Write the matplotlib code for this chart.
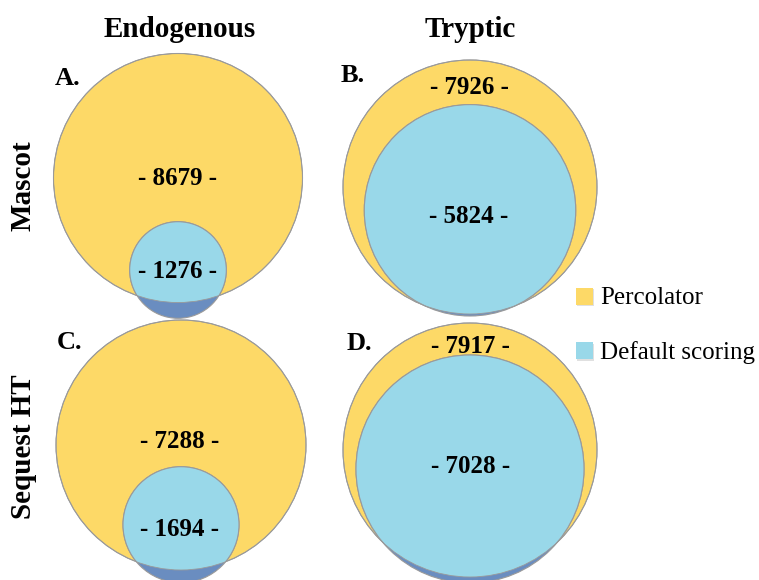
import numpy as np
import matplotlib
matplotlib.use("Agg")
import matplotlib.pyplot as plt
from matplotlib.patches import Circle, Rectangle

# ---- data ----
panel_letters = ["A.", "B.", "C.", "D."]
percolator_counts = [8679, 7926, 7288, 7917]
default_counts = [1276, 5824, 1694, 7028]
column_titles = ["Endogenous", "Tryptic"]
row_titles = ["Mascot", "Sequest HT"]
legend_labels = ["Percolator", "Default scoring"]

# ---- layout (pixel coords, y downward) ----
big_centers = [(178, 178), (470, 187), (181, 445), (470, 450)]
big_radius = [124.5, 127, 125, 127]
small_radius = [48.3, 105.7, 58, 114]
small_center_y = [270, 210.3, 524.7, 469]
perc_label_y = [185, 94, 448.3, 353.3]
def_label_y = [278.3, 222.7, 536, 473.3]
label_x = [177, 469, 179.5, 470.7]
letter_pos = [(55, 85), (341, 81.7), (56.7, 349.3), (346.7, 350)]
col_title_pos = [(180, 37), (470, 37)]
row_title_pos = [(31, 186), (31, 446.7)]

YELLOW = "#FDD967"
LBLUE = "#99D8E9"
DBLUE = "#6A8DC0"
EDGE = "#9A9A9A"
FONT = "Liberation Serif"

fig = plt.figure(figsize=(7.59, 5.80), dpi=100)
ax = fig.add_axes([0, 0, 1, 1])
ax.set_xlim(0, 759)
ax.set_ylim(580, 0)
ax.axis("off")

for i in range(4):
    cx, cy = big_centers[i]
    R = big_radius[i]
    r = small_radius[i]
    big = Circle((cx, cy), R, facecolor=YELLOW, edgecolor=EDGE, lw=0.8, zorder=1)
    ax.add_patch(big)
    dark = Circle((cx, small_center_y[i]), r, facecolor=DBLUE, edgecolor=EDGE, lw=0.8, zorder=2)
    ax.add_patch(dark)
    light = Circle((cx, small_center_y[i]), r, facecolor=LBLUE, edgecolor=EDGE, lw=0.8, zorder=3)
    ax.add_patch(light)
    clip = Circle((cx, cy), R, transform=ax.transData)
    light.set_clip_path(clip)
    ax.add_patch(Circle((cx, cy), R, facecolor="none", edgecolor=EDGE, lw=0.6, zorder=4))

    ax.text(label_x[i], perc_label_y[i], f"- {percolator_counts[i]} -", ha="center", va="baseline",
            fontsize=18, fontweight="bold", family=FONT, zorder=5)
    ax.text(label_x[i], def_label_y[i], f"- {default_counts[i]} -", ha="center", va="baseline",
            fontsize=18, fontweight="bold", family=FONT, zorder=5)
    lx, ly = letter_pos[i]
    ax.text(lx, ly, panel_letters[i], ha="left", va="baseline", fontsize=19,
            fontweight="bold", family=FONT, zorder=5)

for (x, y), t in zip(col_title_pos, column_titles):
    ax.text(x, y, t, ha="center", va="baseline", fontsize=21, fontweight="bold", family=FONT)
for (x, y), t in zip(row_title_pos, row_titles):
    ax.text(x, y, t, ha="center", va="baseline", rotation=90, rotation_mode="anchor",
            fontsize=21, fontweight="bold", family=FONT)

# legend
leg_y = [296, 350.5]
leg_colors = [YELLOW, LBLUE]
for y, c, lab in zip(leg_y, leg_colors, legend_labels):
    ax.add_patch(Rectangle((577, y - 8.5 + 1.5), 17, 17, facecolor="#cccccc", edgecolor="none", alpha=0.6))
    ax.add_patch(Rectangle((575.5, y - 8.5), 17, 17, facecolor=c, edgecolor="none"))
    ax.text(600, y + 8.5, lab, ha="left", va="baseline", fontsize=18, family=FONT)

fig.savefig("out.png", dpi=100)
